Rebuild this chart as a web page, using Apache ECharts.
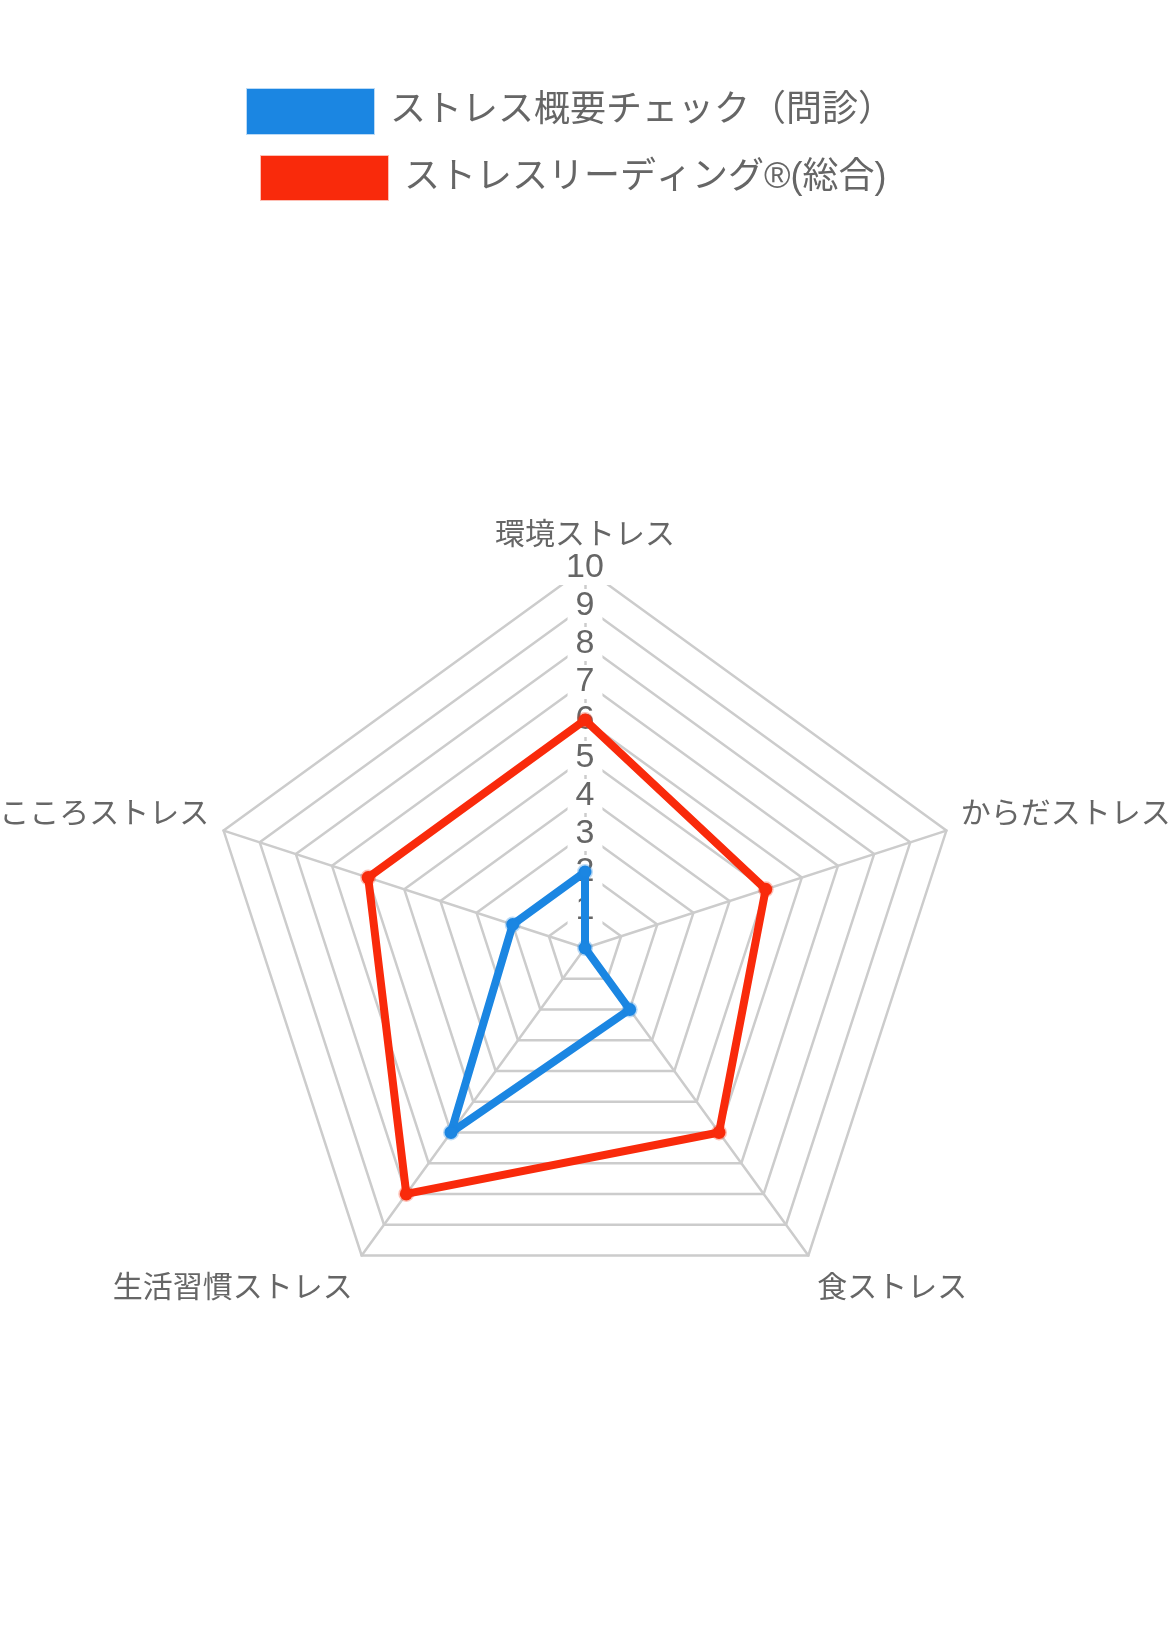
<!DOCTYPE html>
<html>
<head>
<meta charset="utf-8">
<script src="https://cdn.jsdelivr.net/npm/echarts@6/dist/echarts.min.js"></script>
<style>
  html, body { margin: 0; padding: 0; background: #fff; }
  #main { width: 1168px; height: 1646px; }
</style>
</head>
<body>
<div id="main"></div>
<script>
// 軸の名前（反時計回り：上から左へ）
var indicators = ['環境ストレス', 'こころストレス', '生活習慣ストレス', '食ストレス', 'からだストレス'];
var maxValue = 10;
var seriesNames = ['ストレス概要チェック（問診）', 'ストレスリーディング®(総合)'];
var checkValues = [2, 2, 6, 2, 0];
var readingValues = [6, 6, 8, 6, 5];

var blue = '#1B86E2';
var red = '#F92A0B';
var gray = '#666666';
var font = '"Liberation Sans", "Noto Sans CJK JP", sans-serif';

var myChart = echarts.init(document.getElementById('main'));

var indicatorList = [];
for (var i = 0; i < indicators.length; i++) {
    indicatorList.push({
        name: indicators[i],
        max: maxValue,
        min: 0,
        axisLabel: { show: i === 0 }
    });
}

var legendText = { fontSize: 36, color: gray, fontFamily: font, padding: [0, 0, 0, 11] };

var option = {
    animation: false,
    legend: [
        {
            data: [seriesNames[0]],
            left: 241,
            top: 83,
            itemWidth: 127,
            itemHeight: 45,
            icon: 'rect',
            textStyle: legendText
        },
        {
            data: [seriesNames[1]],
            left: 255,
            top: 150,
            itemWidth: 127,
            itemHeight: 44,
            icon: 'rect',
            textStyle: legendText
        }
    ],
    radar: {
        center: [585, 948],
        radius: 380,
        startAngle: 90,
        splitNumber: 10,
        shape: 'polygon',
        indicator: indicatorList,
        axisNameGap: 15,
        axisName: {
            color: gray,
            fontSize: 30,
            fontFamily: font,
            formatter: function (name) {
                var idx = indicators.indexOf(name);
                if (idx === 1 || idx === 4) return '{t|' + name + '}\n{s| }';
                if (idx === 2 || idx === 3) return '{b| }\n{t|' + name + '}';
                return '{top|' + name + '}';
            },
            rich: {
                t: { fontSize: 30, color: gray, fontFamily: font, lineHeight: 32 },
                top: { fontSize: 30, color: gray, fontFamily: font, lineHeight: 18 },
                s: { fontSize: 10, lineHeight: 22 },
                b: { fontSize: 10, lineHeight: 42 }
            }
        },
        axisLine: { lineStyle: { color: '#cccccc', width: 2.5 } },
        splitLine: { lineStyle: { color: '#cccccc', width: 2.5 } },
        splitArea: { show: false },
        axisTick: { show: false },
        axisLabel: {
            show: false,
            showMinLabel: false,
            margin: 0,
            align: 'center',
            verticalAlign: 'middle',
            color: gray,
            fontSize: 34,
            fontFamily: '"Liberation Sans", Arial, sans-serif',
            backgroundColor: '#ffffff',
            padding: [0, 8]
        }
    },
    series: [{
        type: 'radar',
        symbol: 'circle',
        symbolSize: 13,
        data: [
            {
                name: seriesNames[0],
                value: checkValues,
                lineStyle: { color: blue, width: 8 },
                itemStyle: { color: blue, borderColor: 'rgba(27,134,226,0.3)', borderWidth: 3 }
            },
            {
                name: seriesNames[1],
                value: readingValues,
                lineStyle: { color: red, width: 8 },
                itemStyle: { color: red, borderColor: 'rgba(249,42,11,0.3)', borderWidth: 3 }
            }
        ]
    }]
};

myChart.setOption(option);
</script>
</body>
</html>
